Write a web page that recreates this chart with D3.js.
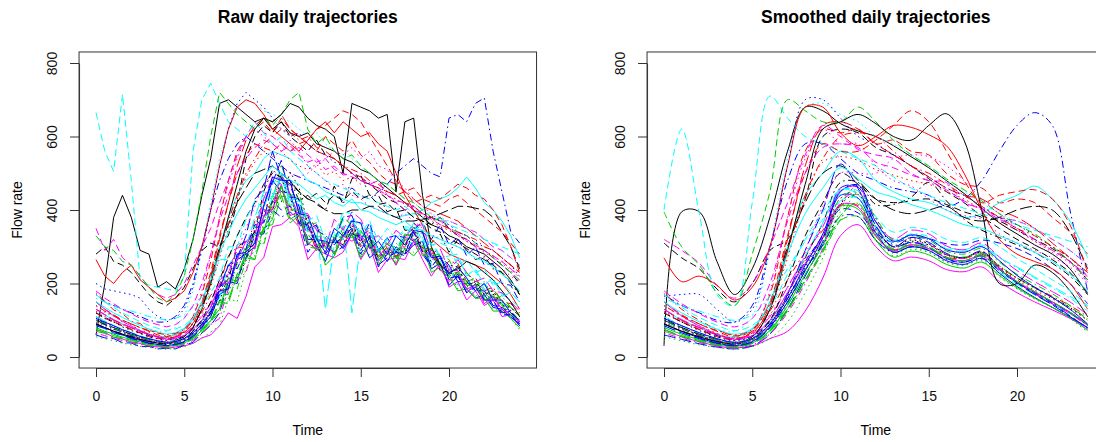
<!DOCTYPE html>
<html>
<head>
<meta charset="utf-8">
<script src="https://cdn.jsdelivr.net/npm/d3@7"></script>
<style>
  body { margin: 0; background: #fff; }
  svg { display: block; font-family: "Liberation Sans", Arial, Helvetica, sans-serif; }
</style>
</head>
<body>
<svg id="chart" width="1096" height="442"></svg>
<script>
// Sampling times (hours)
const time_raw = [0,0.5,1,1.5,2,2.5,3,3.5,4,4.5,5,5.5,6,6.5,7,7.5,8,8.5,9,9.5,10,10.5,11,11.5,12,
  12.5,13,13.5,14,14.5,15,15.5,16,16.5,17,17.5,18,18.5,19,19.5,20,20.5,21,21.5,22,22.5,23,23.5,24]
const time_smooth = [0,1,2,3,4,5,6,7,8,9,10,11,12,13,14,15,16,17,18,19,20,21,22,23,24]

const x_ticks = [0, 5, 10, 15, 20]
const y_ticks = [0, 200, 400, 600, 800]
const panel_titles = ['Raw daily trajectories', 'Smoothed daily trajectories']

// Raw flow rate per day (half-hourly)
const raw_day_00 = [60,200,380,440,380,290,280,190,205,185, 240,320,440,540,690,700,680,660,640,650, 620,640,610,600,610,580,570,560,540,530, 510,500,480,460,440,420,400,380,360,350, 330,320,300,290,280,260,240,210,170]
const raw_day_01 = [150,130,115,100,90,80,70,60,55,60, 75,110,170,260,380,480,560,600,620,640, 610,650,620,600,580,560,600,580,560,590, 550,530,500,480,470,450,460,430,420,410, 430,440,420,400,380,360,340,310,280]
const raw_day_02 = [110,98,80,74,58,55,45,36,34,38, 42,60,82,106, 170,185,280,270,275,365,445,430,430,350,355,300,265,330,300,350,340,275,295,260,310,280,320,315,245,250,200,220,195,165,185,140,145,110,95]
const raw_day_03 = [170,150,140,130,120,110,100,95,95,110, 140,200,300,400,480,540,580,600,580,560, 540,520,500,490,480,470,460,450,440,460, 440,430,450,470,500,520,540,520,500,490, 650,660,640,690,705,560,450,340,310]
const raw_day_04 = [85,77,63,60,48,45,37,34,30,34, 39,57,73,104, 130,205,210,285,340,335,440,490,410,415,340,355,130,310,375,120,315,340,285,310,280,315,310,325,255,260,245,195,210,175,185,140,150,120,100]
const raw_day_05 = [75,66,54,49,41,37,29,28,24,27, 30,37,52,60, 85,120,105,165,245,270,355,360,380,355,265,295,280,270,285,335,265,305,230,265,270,265,315,265,220,255,190,205,155,180,140,155,110,115,85]
const raw_day_06 = [280,300,260,250,230,200,170,150,140,160, 190,240,290,310,300,330,420,540,600,630, 610,640,600,580,560,590,550,540,520,500, 480,470,450,430,420,400,380,370,360,380, 350,330,320,300,290,270,250,230,200]
const raw_day_07 = [140,122,114,94,88,72,68,55,54,52, 68,82,118,146, 175,250,280,275,350,410,420,495,440,380,380,305,320,330,325,375,330,345,280,310,285,310,365,295,295,240,250,245,195,205,170,180,140,135,110]
const raw_day_08 = [95,88,70,65,52,50,38,37,30,36, 40,58,75,110, 170,170,255,300,295,380,425,525,440,430,335,300,320,285,355,335,355,315,270,295,265,330,340,285,295,245,220,235,200,200,160,170,145,120,105]
const raw_day_09 = [60,52,50,39,38,28,29,22,24,22, 32,40,65,86, 120,205,200,290,345,370,475,535,435,430,345,360,280,315,380,385,320,355,290,325,285,330,315,340,265,275,250,205,205,180,180,140,135,115,85]
const raw_day_10 = [130,115,100,90,80,70,60,55,55,60, 75,100,150,220,300,380,440,480,500,540, 560,550,540,510,480,470,450,440,430,420, 420,410,400,390,380,385,390,400,420,430, 440,460,490,460,420,400,370,330,270]
const raw_day_11 = [350,290,320,270,250,220,190,170,160,170, 200,250,300,350,420,480,550,600,640,610, 600,580,560,570,550,530,540,510,500,490, 480,470,480,440,420,400,410,390,380,370, 370,360,350,340,320,300,290,270,250]
const raw_day_12 = [100,93,75,71,55,53,41,41,33,40, 44,65,82,119, 165,215,216,262,338,337,420,421,503,462,360,356,325,281,320,370,306,330,267,278,295,284,342,298,259,277,226,230,191,207,171,172,132,127,95]
const raw_day_13 = [175,152,128,118,97,91,72,68,55,63, 67,93,122,168, 195,275,300,295,370,420,400,455,410,360,360,285,310,320,305,345,300,325,270,300,275,300,345,285,295,245,260,255,205,215,180,190,150,145,120]
const raw_day_14 = [70,64,53,50,40,39,30,31,25,32, 35,52,68,97, 155,155,225,280,265,355,360,440,365,385,300,295,315,280,330,320,340,320,275,310,270,335,325,290,295,255,225,250,205,215,165,185,150,135,115]
const raw_day_15 = [90,80,70,60,52,45,38,34,31,34, 42,58,82,110, 170,185,265,280,300,410,480,450,445,365,360,305,260,325,295,335,325,270,290,260,300,280,305,315,240,255,195,220,185,160,170,135,130,108,90]
const raw_day_16 = [665,560,505,715,480,210,195,190,185,180, 220,560,700,745,690,640,620,600,640,610, 580,600,560,540,520,500,480,470,460,450, 440,430,420,410,400,410,390,380,370,380, 360,350,340,330,320,310,300,290,280]
const raw_day_17 = [110,95,85,75,65,55,50,45,45,55, 70,110,180,280,380,470,540,600,620,600, 580,560,590,560,520,500,480,460,470,440, 430,410,400,390,380,390,370,350,330,320, 310,300,290,280,270,260,240,220,200]
const raw_day_18 = [105,92,80,70,60,52,45,40,37,40, 48,65,90,125, 190,210,300,315,340,450,510,485,485,425,440,415,400,465,415,485,495,440,440,395,405,345,345,370,310,335,285,320,290,265,275,240,230,200,170]
const raw_day_19 = [130,115,100,90,80,70,60,55,50,55, 65,90,140,220,320,420,520,590,630,650, 640,660,620,600,580,560,550,540,520,500, 490,470,460,450,440,450,430,410,400,390, 380,370,350,330,310,290,270,250,230]
const raw_day_20 = [80,70,62,54,47,41,35,31,29,31, 38,52,72,100, 130,215,205,290,335,340,425,465,375,390,305,330,250,275,330,335,270,310,250,290,250,295,275,305,230,245,220,180,185,160,160,125,125,105,80]
const raw_day_21 = [120,108,96,85,75,66,58,52,48,50, 58,75,100,135, 190,250,240,295,360,365,425,400,410,385,305,345,330,310,325,375,315,365,290,325,330,325,365,340,320,360,305,325,275,300,250,255,200,195,150]
const raw_day_22 = [140,120,110,100,90,80,75,70,70,80, 110,180,300,420,540,620,680,700,690,670, 660,650,640,620,600,610,580,560,550,540, 520,500,480,470,450,430,420,400,390,380, 370,360,350,340,320,310,290,270,250]
const raw_day_23 = [65,58,51,45,39,34,30,27,25,27, 33,45,63,88, 105,185,210,230,315,395,405,500,440,385,370,295,300,320,305,365,315,340,270,305,270,305,345,290,280,235,235,235,175,195,150,170,120,125,95]
const raw_day_24 = [100,90,80,70,62,55,48,43,40,45, 55,80,130,210,300,360,420,460,500,510, 520,500,480,450,430,420,400,390,390,400, 400,410,410,390,380,370,370,375,380,390, 400,410,410,405,400,380,340,300,240]
const raw_day_25 = [265,220,200,230,250,210,190,170,150,160, 180,230,300,400,520,620,680,700,690,660, 620,600,580,560,590,620,640,610,640,620, 600,610,580,560,500,440,400,360,320,300, 280,270,260,250,240,220,200,170,130]
const raw_day_26 = [330,300,290,260,250,220,190,160,150,170, 220,320,450,600,720,690,660,640,620,650, 630,660,700,720,620,580,600,560,540,550, 520,500,480,470,450,430,420,400,380,370, 350,340,330,310,290,270,250,230,210]
const raw_day_27 = [200,185,180,175,170,160,130,110,100,105, 130,190,290,400,520,620,690,720,700,680, 650,620,600,610,580,560,550,530,520,500, 490,470,460,450,440,420,410,390,380,370, 360,340,330,310,300,290,270,250,220]
const raw_day_28 = [160,150,140,130,125,118,110,105,100,105, 115,135,165,200, 265,265,330,375,350,435,430,500,415,425,340,325,335,310,360,350,365,340,290,320,280,355,350,310,315,275,245,270,225,235,185,205,170,155,135]
const raw_day_29 = [130,115,102,90,80,70,62,55,50,53, 62,82,110,145, 210,225,305,315,330,430,490,485,475,395,390,345,300,375,345,395,375,320,330,305,345,325,355,360,280,295,235,265,230,205,215,180,175,150,125]
const raw_day_30 = [90,80,70,62,55,48,42,38,36,42, 55,80,130,200,290,380,470,560,620,650, 640,660,690,680,650,630,620,600,500,690, 680,670,650,660,450,640,650,440,300,250, 230,240,260,250,230,210,180,150,110]
const raw_day_31 = [120,105,95,85,75,65,55,50,48,55, 70,100,150,230,330,420,500,550,580,570, 560,580,560,580,590,620,630,650,670,660, 640,600,560,520,480,450,420,430,440,430, 450,470,460,440,430,400,360,300,230]
const raw_day_32 = [55,50,44,38,33,29,26,23,21,23, 28,37,50,68, 85,160,150,240,295,310,405,465,385,390,305,330,250,275,330,335,275,315,255,300,260,305,285,315,240,255,230,185,190,165,165,130,125,105,75]
const raw_day_33 = [100,88,77,67,58,50,43,38,35,38, 46,62,86,118, 173,230,215,270,330,335,400,380,395,370,285,320,300,285,300,345,280,325,245,280,285,275,320,280,245,275,210,225,175,200,155,165,120,125,95]
const raw_day_34 = [110,98,86,76,66,58,50,44,40,43, 52,70,96,130, 160,250,280,300,380,450,435,490,430,385,380,315,320,340,320,375,325,355,285,325,290,325,365,315,310,270,275,280,220,240,195,215,165,175,150]
const raw_day_35 = [150,130,112,97,84,72,62,54,48,50, 58,75,100,135, 200,200,265,315,295,385,400,470,385,395,310,295,310,280,330,315,330,305,260,290,250,325,320,280,280,240,205,230,185,195,145,165,130,115,95]
const raw_day_36 = [90,80,70,62,55,48,42,38,36,40, 50,70,100,150,210,270,330,380,420,470, 500,490,470,450,430,445,420,440,425,450, 430,440,415,420,395,400,380,370,350,340, 320,310,295,280,265,250,230,205,175]
const raw_day_37 = [125,110,98,88,78,70,62,56,52,56, 66,90,130,190,270,350,430,490,530,560, 545,560,535,520,510,525,495,505,480,490, 470,475,450,440,430,415,400,385,370,355, 345,330,315,300,290,275,260,240,215]
const raw_day_38 = [100,92,78,70,60,55,46,42,38,40, 46,60,78,98, 120,195,185,265,315,305,390,450,440,445,360,365,295,320,385,355,305,330,285,315,290,335,330,345,275,280,265,215,230,195,205,160,165,135,110]
const raw_day_39 = [85,78,66,60,50,44,37,34,30,33, 40,55,80,120, 185,250,270,330,430,455,560,485,465,410,320,320,315,305,330,350,290,330,250,270,285,280,340,285,250,270,215,220,175,190,155,155,115,115,90]
const raw_day_40 = [150,135,120,108,96,86,76,68,62,66, 78,105,150,210,280,340,390,430,460,490, 520,500,480,470,450,430,440,420,410,430, 400,395,380,370,360,370,350,345,330,320, 310,300,285,270,260,245,225,205,180]
const raw_day_41 = [180,160,145,130,118,105,95,88,82,88, 105,140,200,280,370,440,500,540,570,590, 580,560,575,550,530,540,510,520,495,500, 480,470,455,440,425,420,400,390,375,360, 350,335,320,305,290,275,260,240,220]
const raw_day_42 = [120,105,95,82,72,64,55,50,45,48, 56,72,95,125, 150,225,255,265,345,400,400,485,430,380,375,295,305,315,305,360,310,330,265,295,270,295,355,285,290,235,250,245,195,205,170,180,140,135,110]
const raw_day_43 = [140,125,112,100,90,80,72,65,60,64, 75,100,145,210,290,370,440,500,540,580, 600,620,610,590,600,570,560,540,520,510, 500,480,470,450,440,420,410,390,380,360, 350,340,330,320,300,290,270,250,230]
const raw_day_44 = [75,68,58,52,45,40,34,31,28,31, 37,48,66,90, 150,145,225,270,265,350,375,465,400,400,315,290,315,280,340,325,345,305,265,285,255,320,325,275,285,240,215,230,195,195,155,165,140,115,100]
const raw_day_45 = [105,95,85,74,66,56,50,44,40,42, 50,66,90,120, 180,185,280,285,310,410,490,480,480,390,385,320,285,350,330,370,365,295,315,280,330,305,345,340,270,275,225,245,215,180,200,155,155,120,100]
const raw_day_46 = [170,150,135,120,108,96,86,78,72,76, 86,105,135,175, 215,300,300,375,425,405,470,500,425,435,370,385,315,330,395,390,335,370,315,350,320,350,340,365,305,310,300,250,265,230,240,195,205,175,150]
const raw_day_47 = [95,85,75,66,58,50,44,40,37,40, 48,62,85,120,170,230,290,350,410,470, 500,520,500,490,500,520,540,560,550,570, 540,560,520,510,480,460,430,410,390,370, 350,330,315,300,285,270,255,235,205]

// Smoothed flow rate per day (hourly)
const smooth_day_00 = [30,395,395,260,170,240,380,560,680,670,635,615,600,575,545,515,480,445,405,365,335,305,280,240,170]
const smooth_day_01 = [150,115,90,70,55,75,170,380,560,620,610,620,580,590,560,550,500,470,460,420,430,420,380,340,280]
const smooth_day_02 = [110,82,60,45,34,44,80,150,240,300,405,415,330,282,298,285,258,250,262,218,185,158,135,110,80]
const smooth_day_03 = [170,140,120,100,95,140,300,480,580,580,540,500,480,460,450,440,410,430,480,560,630,665,630,400,180]
const smooth_day_04 = [85,65,50,38,30,40,75,140,225,305,425,432,340,292,312,300,270,262,278,232,198,170,145,118,88]
const smooth_day_05 = [75,55,42,30,25,30,50,70,125,215,330,360,300,262,272,262,238,232,245,205,175,150,128,105,75]
const smooth_day_06 = [310,270,240,185,150,200,290,320,430,600,620,610,570,550,520,485,450,420,385,370,345,320,295,260,210]
const smooth_day_07 = [140,110,85,65,52,65,115,190,265,325,432,440,348,300,322,308,280,270,288,245,210,182,158,132,100]
const smooth_day_08 = [95,72,55,40,32,42,78,145,235,315,432,450,345,295,312,300,272,262,278,238,202,175,150,122,92]
const smooth_day_09 = [60,48,36,27,22,30,62,130,220,315,460,462,355,300,325,312,282,270,288,242,205,172,145,112,78]
const smooth_day_10 = [130,100,80,60,55,75,150,300,440,500,560,540,480,450,430,420,400,380,390,420,440,465,430,370,270]
const smooth_day_11 = [320,290,255,195,160,200,300,420,550,630,600,565,550,540,500,480,475,420,405,380,370,350,320,290,250]
const smooth_day_12 = [100,78,58,44,35,46,85,150,236,308,415,465,378,305,318,308,280,270,285,240,205,175,150,120,85]
const smooth_day_13 = [175,130,100,75,58,70,125,210,285,345,412,412,330,292,305,295,272,268,280,245,215,190,165,140,110]
const smooth_day_14 = [70,55,42,32,27,37,70,130,210,290,372,382,318,288,300,295,278,272,282,248,215,188,162,135,105]
const smooth_day_15 = [90,70,52,38,31,42,82,150,235,325,440,432,338,285,300,290,262,252,268,228,192,162,135,108,80]
const smooth_day_16 = [400,620,390,170,140,420,710,650,600,580,560,540,520,490,460,440,420,405,390,375,360,345,330,315,300]
const smooth_day_17 = [110,85,65,50,45,70,180,380,540,620,580,580,520,480,465,430,400,385,375,335,310,290,270,245,200]
const smooth_day_18 = [105,80,60,45,37,48,90,170,270,365,475,475,415,415,435,475,425,375,345,325,305,285,255,220,170]
const smooth_day_19 = [130,100,80,60,50,65,140,320,520,630,640,620,580,550,520,490,460,440,430,400,380,350,310,270,230]
const smooth_day_20 = [80,62,47,35,29,38,72,140,225,305,410,402,318,272,288,278,252,242,258,222,188,160,135,108,72]
const smooth_day_21 = [120,96,75,58,48,58,100,175,260,330,402,392,338,312,325,322,308,305,318,310,295,272,240,200,145]
const smooth_day_22 = [140,110,90,75,70,110,300,540,680,690,660,640,600,580,550,520,480,450,420,390,370,350,320,290,250]
const smooth_day_23 = [65,51,39,30,25,33,63,120,200,295,420,448,338,288,310,305,278,268,285,242,205,172,145,118,85]
const smooth_day_24 = [100,80,62,48,40,55,130,300,420,500,520,480,430,400,390,400,410,380,370,380,400,410,400,340,240]
const smooth_day_25 = [270,205,220,195,155,190,300,520,680,680,610,575,600,630,625,605,575,500,400,320,280,260,240,200,130]
const smooth_day_26 = [395,300,250,175,140,280,450,700,670,640,640,680,640,590,550,520,485,455,425,390,360,335,300,260,210]
const smooth_day_27 = [165,170,170,130,95,130,290,520,700,700,650,600,580,550,520,490,460,440,410,380,360,330,300,270,220]
const smooth_day_28 = [160,140,125,110,100,115,165,240,315,375,442,432,358,318,335,328,300,292,305,272,242,215,188,160,125]
const smooth_day_29 = [130,102,80,62,50,62,110,190,275,355,452,462,368,322,345,335,302,292,310,272,235,205,178,150,115]
const smooth_day_30 = [90,70,55,42,36,55,130,290,470,620,640,660,635,600,590,630,662,590,400,200,200,250,230,180,110]
const smooth_day_31 = [120,95,75,55,48,70,150,330,500,580,560,560,590,630,670,640,560,480,420,440,450,455,430,360,230]
const smooth_day_32 = [55,44,33,26,21,28,50,95,175,270,395,418,318,275,292,285,258,250,265,225,192,162,135,105,68]
const smooth_day_33 = [100,77,58,43,35,46,86,158,240,305,382,382,318,285,300,290,265,258,270,235,202,175,148,120,88]
const smooth_day_34 = [110,86,66,50,40,52,96,175,275,365,455,442,352,312,332,322,295,288,302,270,245,218,192,165,138]
const smooth_day_35 = [150,112,84,62,48,58,100,175,255,325,415,408,328,290,305,295,270,262,275,238,205,178,150,122,88]
const smooth_day_36 = [90,70,55,42,36,50,100,210,330,420,500,470,430,420,425,430,415,395,380,350,320,295,265,230,175]
const smooth_day_37 = [125,98,78,62,52,66,130,270,430,530,545,535,510,495,480,470,450,430,400,370,345,315,290,260,215]
const smooth_day_38 = [100,78,60,46,38,46,78,130,205,285,375,448,378,318,330,318,288,280,295,258,225,198,172,140,100]
const smooth_day_39 = [85,66,50,37,30,40,80,170,290,400,525,458,358,300,312,298,268,258,275,238,202,170,142,110,80]
const smooth_day_40 = [150,120,96,76,62,78,150,280,390,460,515,485,450,435,415,400,380,360,350,330,310,285,260,225,180]
const smooth_day_41 = [180,145,118,95,82,105,200,370,500,570,580,570,530,515,495,480,455,425,400,375,350,320,290,260,220]
const smooth_day_42 = [120,95,72,55,45,56,95,165,245,325,415,442,348,300,315,305,278,270,285,248,215,188,162,135,100]
const smooth_day_43 = [140,112,90,72,60,75,145,290,440,540,600,610,600,560,520,500,470,440,410,380,350,330,300,270,230]
const smooth_day_44 = [75,58,45,34,28,37,66,125,210,290,385,418,332,292,305,298,270,262,275,238,205,178,150,122,88]
const smooth_day_45 = [105,85,66,50,40,50,90,160,250,335,450,468,368,315,332,322,292,285,300,262,222,190,162,130,90]
const smooth_day_46 = [170,135,108,86,72,86,135,225,320,395,455,452,382,340,352,345,320,312,325,300,268,240,210,180,140]
const smooth_day_47 = [95,75,58,44,37,48,85,170,290,410,500,500,500,540,550,545,520,480,430,390,350,315,285,255,205]

const raw_days = [raw_day_00, raw_day_01, raw_day_02, raw_day_03, raw_day_04, raw_day_05, raw_day_06, raw_day_07,
  raw_day_08, raw_day_09, raw_day_10, raw_day_11, raw_day_12, raw_day_13, raw_day_14, raw_day_15, raw_day_16,
  raw_day_17, raw_day_18, raw_day_19, raw_day_20, raw_day_21, raw_day_22, raw_day_23, raw_day_24, raw_day_25,
  raw_day_26, raw_day_27, raw_day_28, raw_day_29, raw_day_30, raw_day_31, raw_day_32, raw_day_33, raw_day_34,
  raw_day_35, raw_day_36, raw_day_37, raw_day_38, raw_day_39, raw_day_40, raw_day_41, raw_day_42, raw_day_43,
  raw_day_44, raw_day_45, raw_day_46, raw_day_47]
const smooth_days = [smooth_day_00, smooth_day_01, smooth_day_02, smooth_day_03, smooth_day_04, smooth_day_05,
  smooth_day_06, smooth_day_07, smooth_day_08, smooth_day_09, smooth_day_10, smooth_day_11, smooth_day_12,
  smooth_day_13, smooth_day_14, smooth_day_15, smooth_day_16, smooth_day_17, smooth_day_18, smooth_day_19,
  smooth_day_20, smooth_day_21, smooth_day_22, smooth_day_23, smooth_day_24, smooth_day_25, smooth_day_26,
  smooth_day_27, smooth_day_28, smooth_day_29, smooth_day_30, smooth_day_31, smooth_day_32, smooth_day_33,
  smooth_day_34, smooth_day_35, smooth_day_36, smooth_day_37, smooth_day_38, smooth_day_39, smooth_day_40,
  smooth_day_41, smooth_day_42, smooth_day_43, smooth_day_44, smooth_day_45, smooth_day_46, smooth_day_47]

// matplot style cycling: col = 1:6, lty = 1:5
const line_colors = ['#000000', '#FF0000', '#00CD00', '#0000FF', '#00FFFF', '#FF00FF']
const line_dashes = [null, '7,4', '1.5,3.5', '1.5,3.5,7,3.5', '12,4']

const svg = d3.select('#chart')

function draw_panel(cfg) {
  // hour 0 -> x0, 17.65 px per hour
  let x = d3.scaleLinear().domain([0, 20]).range([cfg.x0, cfg.x0 + 353])
  let y = d3.scaleLinear().domain([0, 800]).range([357, 63])

  let g = svg.append('g')

  // Curves
  let line = d3.line()
    .x((d, i) => x(cfg.times[i]))
    .y(d => y(d))
  if (cfg.smooth) line.curve(d3.curveCatmullRom.alpha(0.5))

  g.append('g')
    .selectAll('path')
    .data(cfg.days)
    .join('path')
    .attr('d', d => line(d))
    .attr('fill', 'none')
    .attr('stroke', (d, i) => line_colors[i % 6])
    .attr('stroke-dasharray', (d, i) => line_dashes[i % 5])
    .attr('stroke-width', 1)
    .attr('stroke-linejoin', 'round')

  // Box
  let bx0 = x(-0.96), bx1 = x(24.96)
  let by0 = y(830), by1 = y(-30)
  g.append('rect')
    .attr('x', bx0).attr('y', by0)
    .attr('width', bx1 - bx0).attr('height', by1 - by0)
    .attr('fill', 'none')
    .attr('stroke', '#333')
    .attr('stroke-width', 1)

  // X axis
  let x_axis = g.append('g')
    .attr('transform', `translate(0,${by1})`)
    .call(d3.axisBottom(x).tickValues(x_ticks).tickSize(9).tickSizeOuter(0).tickPadding(14))
  x_axis.selectAll('text').style('font-size', '14px').attr('fill', '#111')

  // Y axis (labels parallel to axis like R)
  let y_axis = g.append('g')
    .attr('transform', `translate(${bx0},0)`)
    .call(d3.axisLeft(y).tickValues(y_ticks).tickSize(9).tickSizeOuter(0))
  y_axis.selectAll('text')
    .attr('x', 0).attr('dy', 0)
    .attr('text-anchor', 'middle')
    .attr('transform', 'translate(-22,0) rotate(-90)')
    .style('font-size', '14px')
    .attr('fill', '#111')
  g.selectAll('.domain, .tick line').attr('stroke', '#333')

  // Titles and labels
  let cx = (bx0 + bx1) / 2
  g.append('text')
    .attr('x', cx).attr('y', 23)
    .attr('text-anchor', 'middle')
    .style('font-size', '17.5px').style('font-weight', 'bold')
    .text(cfg.title)
  g.append('text')
    .attr('x', cx).attr('y', 435)
    .attr('text-anchor', 'middle')
    .style('font-size', '14px')
    .text('Time')
  g.append('text')
    .attr('transform', `translate(${bx0 - 57},${(by0 + by1) / 2}) rotate(-90)`)
    .attr('text-anchor', 'middle')
    .style('font-size', '14px')
    .text('Flow rate')
}

draw_panel({ x0: 96, times: time_raw, days: raw_days, smooth: false, title: panel_titles[0] })
draw_panel({ x0: 664, times: time_smooth, days: smooth_days, smooth: true, title: panel_titles[1] })
</script>
</body>
</html>
